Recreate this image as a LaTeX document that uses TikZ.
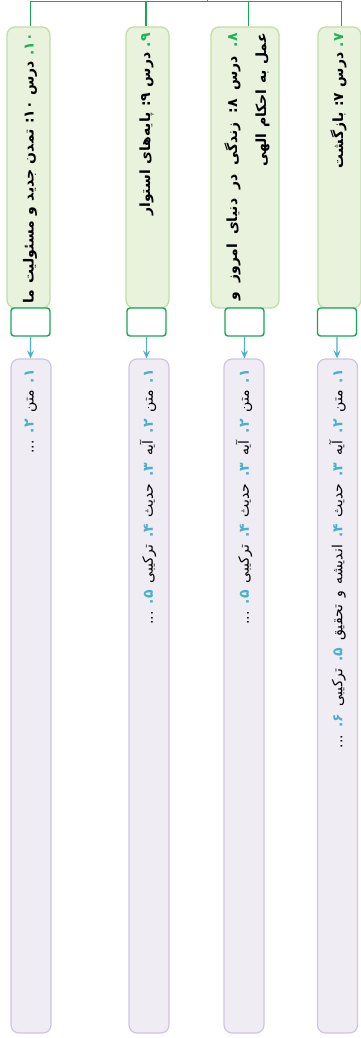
\documentclass[tikz,border=0pt]{standalone}
\usepackage{fontspec}
\newfontfamily\fa[Script=Arabic]{DejaVu Sans}
\TeXXeTstate=1
\usetikzlibrary{arrows.meta}
\definecolor{busgreen}{RGB}{20,168,84}
\definecolor{hdrfill}{RGB}{233,242,221}
\definecolor{hdrdraw}{RGB}{194,222,164}
\definecolor{hnum}{RGB}{30,178,90}
\definecolor{smalldraw}{RGB}{22,167,86}
\definecolor{arrowblue}{RGB}{74,176,203}
\definecolor{purfill}{RGB}{239,236,244}
\definecolor{purdraw}{RGB}{208,196,224}
% coloured numbers kept as left-to-right pieces inside the right-to-left line
\newcommand{\hn}[1]{\beginL{\color{hnum}.\kern0pt#1}\endL}
\newcommand{\pn}[1]{\beginL{\color{arrowblue}\bfseries.\kern0pt#1}\endL}
\newcommand{\cn}[1]{\beginL:\kern0pt#1\endL}
\newcommand{\purspace}{\spaceskip=7pt plus 2pt\relax}
\newcommand{\hdrspace}{\spaceskip=5.5pt plus 2pt\relax}
\begin{document}
\begin{tikzpicture}[x=1pt,y=-1pt,
  hdrbox/.style={draw=hdrdraw,fill=hdrfill,line width=1.3pt,rounded corners=8pt,inner sep=0pt},
  smallbox/.style={draw=smalldraw,fill=white,line width=1.4pt,rounded corners=3pt,inner sep=0pt,minimum width=39pt,minimum height=28pt},
  purbox/.style={draw=purdraw,fill=purfill,line width=1.2pt,rounded corners=8pt,inner sep=0pt,minimum width=40pt,minimum height=674pt},
  hdrtext/.style={rotate=90,anchor=east,inner sep=0pt,font=\fa\bfseries\fontsize{14}{29}\selectfont\hdrspace,align=right},
  purtext/.style={rotate=90,anchor=east,inner sep=0pt,font=\fa\fontsize{14}{17}\selectfont\purspace},
  bus/.style={draw=busgreen,line width=1.4pt},
  arr/.style={draw=arrowblue,line width=1.3pt,-{Stealth[length=8pt,width=7pt,inset=3pt]}}
]
\useasboundingbox (0,0) rectangle (361,1038);
% header boxes
\node[hdrbox,minimum width=43pt,minimum height=281pt] (h10) at (28.5,167.5) {};
\node[hdrbox,minimum width=43pt,minimum height=281pt] (h9) at (147.5,167.5) {};
\node[hdrbox,minimum width=68pt,minimum height=281pt] (h8) at (245,167.5) {};
\node[hdrbox,minimum width=43pt,minimum height=281pt] (h7) at (339.5,167.5) {};
% bus
\coordinate (top) at (207.5,0);
\coordinate (b10) at (30.5,1.5);
\coordinate (b9) at (146,1.5);
\coordinate (b8) at (248.5,1.5);
\coordinate (b7) at (341.5,1.5);
\coordinate (bmid) at (207.5,1.5);
\draw[bus] (top) -- (bmid);
\draw[bus] (b10 |- h10.north) -- (b10) -- (b7) -- (b7 |- h7.north);
\draw[bus] (b9) -- (b9 |- h9.north);
\draw[bus] (b8) -- (b8 |- h8.north);
% header texts
\node[hdrtext] (t10) at (30,33) {\beginR\hn{۱۰} درس \cn{۱۰} تمدن جدید و مسئولیت ما\endR};
\node[hdrtext] (t9) at (146.5,33) {\beginR\hn{۹} درس \cn{۹} پایه‌های استوار\endR};
\node[hdrtext] (t8) at (247,33) {\hbox to 267pt{\beginR\hn{۸} درس \cn{۸} زندگی در دنیای امروز و\endR}\\\hbox to 267pt{\hfill\beginR عمل به احکام الهی\endR}};
\node[hdrtext] (t7) at (338.5,33) {\beginR\hn{۷} درس \cn{۷} بازگشت\endR};
% small boxes
\node[smallbox] (s10) at (30.5,322) {};
\node[smallbox] (s9) at (146.5,322) {};
\node[smallbox] (s8) at (244.5,322) {};
\node[smallbox] (s7) at (337,322) {};
% purple boxes
\node[purbox] (p10) at (31,696) {};
\node[purbox] (p9) at (149,696) {};
\node[purbox] (p8) at (244,696) {};
\node[purbox] (p7) at (337.5,696) {};
% arrows
\draw[arr] (s10) -- (p10);
\draw[arr] (s9.south) -- (s9.south |- p9.north);
\draw[arr] (s8) -- (p8);
\draw[arr] (s7) -- (p7);
% purple texts
\node[purtext] (q10) at (31,369) {\beginR\pn{۱} متن \pn{۲} ...\endR};
\node[purtext] (q9) at (148,369) {\beginR\pn{۱} متن \pn{۲} آیه \pn{۳} حدیث \pn{۴} ترکیبی \pn{۵} ...\endR};
\node[purtext] (q8) at (244,369) {\beginR\pn{۱} متن \pn{۲} آیه \pn{۳} حدیث \pn{۴} ترکیبی \pn{۵} ...\endR};
\node[purtext] (q7) at (337.5,369) {\beginR\pn{۱} متن \pn{۲} آیه \pn{۳} حدیث \pn{۴} اندیشه و تحقیق \pn{۵} ترکیبی \pn{۶} ...\endR};
\end{tikzpicture}
\end{document}
